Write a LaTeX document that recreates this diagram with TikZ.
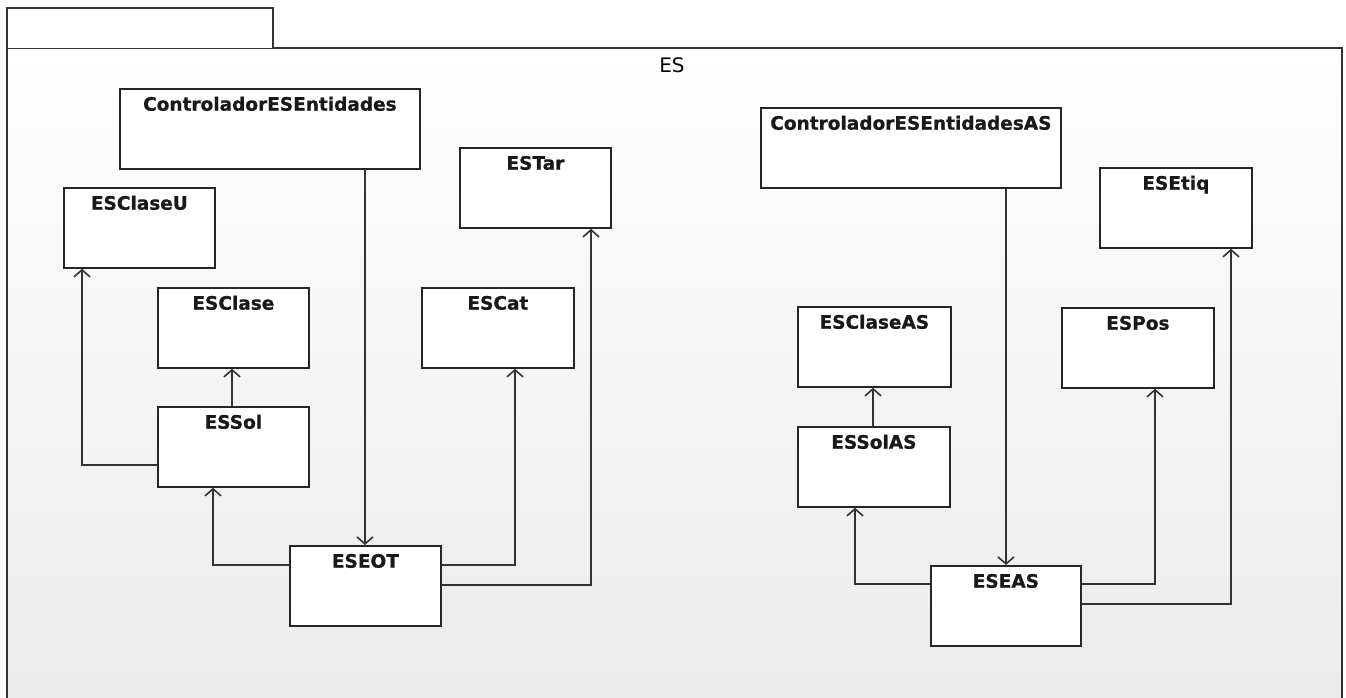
\documentclass[tikz,border=0pt]{standalone}
\usepackage{fontspec}
\setmainfont{DejaVu Sans}
\newfontfamily\ttlfont[FakeBold=0.8]{DejaVu Sans Bold}
\usetikzlibrary{arrows.meta}
\begin{document}
\begin{tikzpicture}[x=1pt,y=-1pt,
  ln/.style={draw=black!80, line width=1.6pt},
  dep/.style={ln, -{Straight Barb[length=7pt,width=16pt,line width=1.6pt]}},
  cls/.style={draw=black!85, line width=1.8pt, fill=white, anchor=north west, minimum width=#1, minimum height=80pt, inner sep=0pt},
  ttl/.style={anchor=north, font=\ttlfont\fontsize{18.5}{20}\selectfont, text=black!90, text height=13.5pt, inner sep=0pt, yshift=-9pt},
  pkgname/.style={font=\fontsize{20}{22}\selectfont, anchor=base, inner sep=0pt}
]
\useasboundingbox (0,0) rectangle (1346,697);
% package frame
\shade[top color=white, bottom color=black!8] (7,48) rectangle (1342,700);
\draw[ln, line width=1.8pt] (7,700) -- (7,48) -- (1342,48) -- (1342,700);
\draw[ln, line width=1.8pt, fill=white] (7,48) -- (7,8) -- (273,8) -- (273,48);
\node[pkgname] (pkg) at (672,72) {ES};

% classes, left group
\node[cls=300pt, label={[ttl]north:ControladorESEntidades}] (ctrl) at (119,88) {};
\node[cls=151pt, label={[ttl]north:ESClaseU}] (claseU) at (63,187) {};
\node[cls=151pt, label={[ttl]north:ESClase}] (clase) at (157,287) {};
\node[cls=151pt, label={[ttl]north:ESSol}] (sol) at (157,406) {};
\node[cls=151pt, label={[ttl]north:ESEOT}] (eot) at (289,545) {};
\node[cls=152pt, label={[ttl]north:ESCat}] (cat) at (421,287) {};
\node[cls=151pt, label={[ttl]north:ESTar}] (tar) at (459,147) {};

% classes, right group
\node[cls=300pt, label={[ttl]north:ControladorESEntidadesAS}] (ctrlAS) at (760,107) {};
\node[cls=152pt, label={[ttl]north:ESEtiq}] (etiq) at (1099,167) {};
\node[cls=153pt, label={[ttl]north:ESClaseAS}] (claseAS) at (797,306) {};
\node[cls=152pt, label={[ttl]north:ESPos}] (pos) at (1061,307) {};
\node[cls=152pt, label={[ttl]north:ESSolAS}] (solAS) at (797,426) {};
\node[cls=150pt, label={[ttl]north:ESEAS}] (eas) at (930,565) {};

% dependencies, left
\draw[dep] ([xshift=246pt]ctrl.south west) -- ([xshift=246pt]ctrl.south west |- eot.north);
\draw[dep] ([yshift=-20pt]eot.north west) -| ([xshift=56pt]sol.south west);
\draw[dep] ([yshift=-59pt]sol.north west) -| ([xshift=19pt]claseU.south west);
\draw[dep] ([xshift=75pt]sol.north west) -- ([xshift=75pt]sol.north west |- clase.south);
\draw[dep] ([yshift=-20pt]eot.north east) -| ([xshift=94pt]cat.south west);
\draw[dep] ([yshift=-40pt]eot.north east) -| ([xshift=132pt]tar.south west);

% dependencies, right
\draw[dep] ([xshift=246pt]ctrlAS.south west) -- ([xshift=246pt]ctrlAS.south west |- eas.north);
\draw[dep] ([yshift=-19pt]eas.north west) -| ([xshift=58pt]solAS.south west);
\draw[dep] ([xshift=76pt]solAS.north west) -- ([xshift=76pt]solAS.north west |- claseAS.south);
\draw[dep] ([yshift=-19pt]eas.north east) -| ([xshift=94pt]pos.south west);
\draw[dep] ([yshift=-39pt]eas.north east) -| ([xshift=132pt]etiq.south west);
\end{tikzpicture}
\end{document}
